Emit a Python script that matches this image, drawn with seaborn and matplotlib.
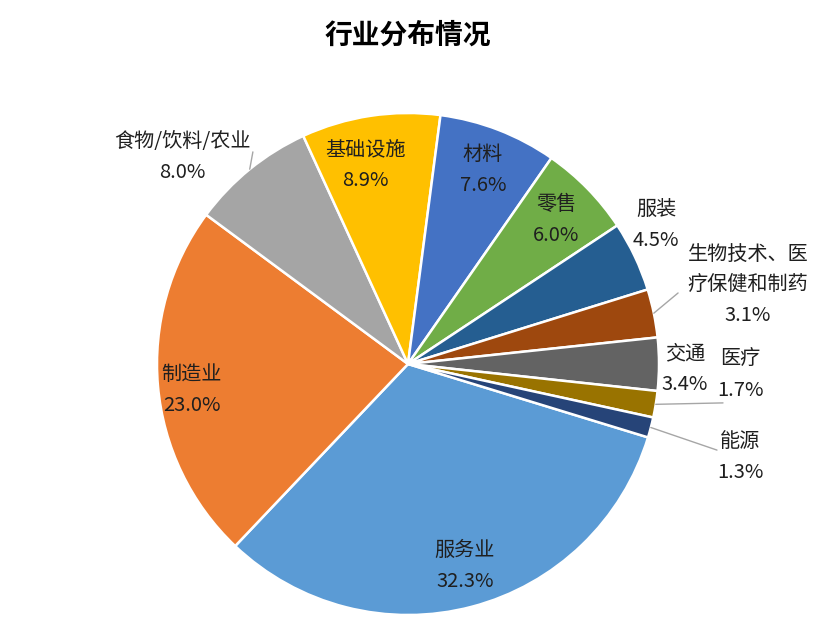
import numpy as np
import matplotlib
matplotlib.use('Agg')
import matplotlib.pyplot as plt
import seaborn as sns

# data (percent)
categories = ['服务业', '制造业', '食物/饮料/农业', '基础设施', '材料', '零售',
              '服装', '生物技术、医\n疗保健和制药', '交通', '医疗', '能源']
shares = [32.3, 23.0, 8.0, 8.9, 7.6, 6.0, 4.5, 3.1, 3.4, 1.7, 1.3]

# Excel office palette
colors = ['#5B9BD5', '#ED7D31', '#A5A5A5', '#FFC000', '#4472C4', '#70AD47',
          '#255E91', '#9E480E', '#636363', '#997300', '#264478']

# label centres (pie radius = 1) and which labels get a leader line
label_pos = [(0.227, -0.805), (-0.861, -0.104), (-0.900, 0.825), (-0.171, 0.793),
             (0.299, 0.773), (0.590, 0.574), (0.988, 0.554), (1.355, 0.315),
             (1.104, -0.020), (1.323, -0.044), (1.323, -0.371)]
leader_end = {2: (-0.618, 0.845), 7: (1.076, 0.283), 9: (1.255, -0.155), 10: (1.231, -0.343)}

sns.set_theme(style='white')
plt.rcParams['font.family'] = ['Noto Sans CJK SC', 'DejaVu Sans']

W, H = 818, 621
cx, cy, R = 408, 364, 251
fig = plt.figure(figsize=(W / 100, H / 100), dpi=100)
ax = fig.add_axes([0, 0, 1, 1])

wedges, _ = ax.pie(shares, colors=sns.color_palette(colors), startangle=-17,
                   counterclock=False, radius=1.0,
                   wedgeprops=dict(edgecolor='white', linewidth=1.8))

ax.set_xlim(-cx / R, (W - cx) / R)
ax.set_ylim((cy - H) / R, cy / R)
ax.axis('off')

txt_color = '#1f1f1f'
for i, (cat, v) in enumerate(zip(categories, shares)):
    x, y = label_pos[i]
    ax.text(x, y, f'{cat}\n{v:.1f}%', ha='center', va='center', fontsize=14.5,
            color=txt_color, linespacing=1.6, multialignment='center')
    if i in leader_end:
        w = wedges[i]
        mid = np.deg2rad((w.theta1 + w.theta2) / 2)
        ex, ey = leader_end[i]
        ax.plot([np.cos(mid), ex], [np.sin(mid), ey], color='#a6a6a6', lw=1.0)

fig.text(408 / W, 1 - 36 / H, '行业分布情况', ha='center', va='center',
         fontsize=20, fontweight='bold', color='black')

fig.savefig('out.png', dpi=100)
